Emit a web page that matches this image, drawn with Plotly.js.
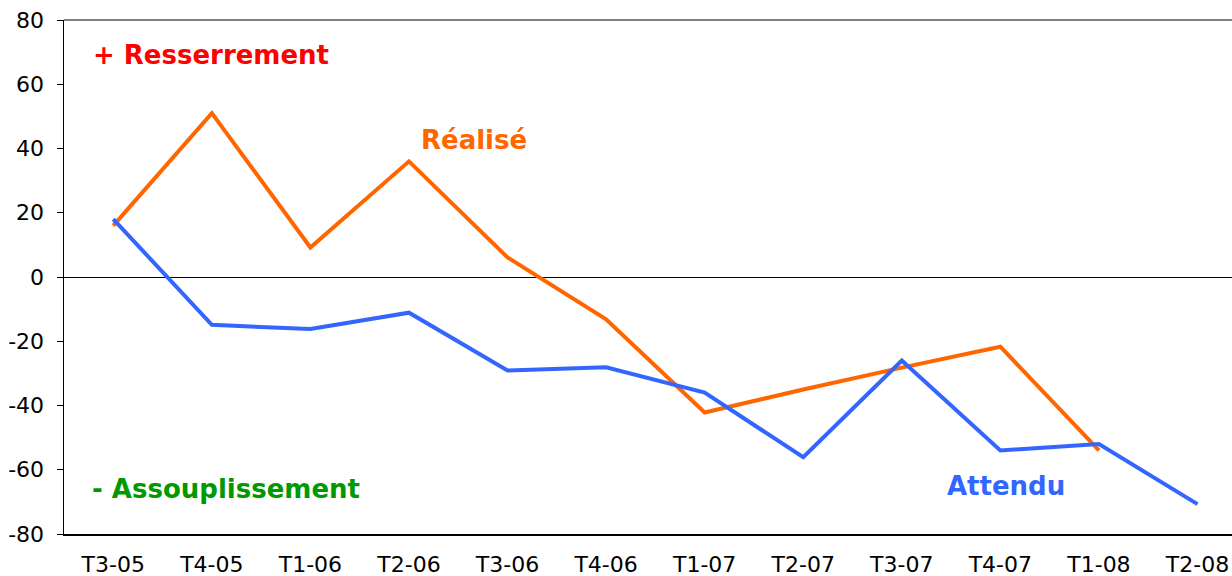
<!DOCTYPE html>
<html>
<head>
<meta charset="utf-8">
<script src="https://cdn.plot.ly/plotly-3.0.1.min.js"></script>
<style>html,body{margin:0;padding:0;background:#fff;}#chart{width:1232px;height:576px;}</style>
</head>
<body>
<div id="chart"></div>
<script>
const categories = ["T3-05","T4-05","T1-06","T2-06","T3-06","T4-06","T1-07","T2-07","T3-07","T4-07","T1-08","T2-08"];
const realise = [16, 51, 9.2, 36, 6.1, -13.2, -42.2, -35, -28.2, -21.7, -54, null];
const attendu = [18, -14.9, -16.2, -11.1, -29.1, -28.1, -36, -56.1, -26, -54, -52, -70.7];
const yTicks = [-80, -60, -40, -20, 0, 20, 40, 60, 80];

const font = "DejaVu Sans, Verdana, sans-serif";

const traces = [
  {x: categories, y: realise, type: "scatter", mode: "lines", name: "Réalisé",
   line: {color: "#FF6600", width: 4}, connectgaps: false, hoverinfo: "x+y"},
  {x: categories, y: attendu, type: "scatter", mode: "lines", name: "Attendu",
   line: {color: "#3366FF", width: 4}, hoverinfo: "x+y"}
];

const layout = {
  width: 1232, height: 576,
  margin: {l: 64, r: 0, t: 20, b: 42, pad: 0},
  paper_bgcolor: "#fff", plot_bgcolor: "#fff",
  showlegend: false,
  font: {family: font, color: "#000", size: 20},
  xaxis: {
    type: "category", categoryorder: "array", categoryarray: categories,
    range: [-0.5, 11.35],
    showgrid: false, zeroline: false,
    showline: true, linecolor: "#000", linewidth: 1.5,
    ticks: "", tickfont: {family: font, size: 22, color: "#000"},
    ticklabelstandoff: 10
  },
  yaxis: {
    range: [-80, 80], tickvals: yTicks, ticktext: yTicks.map(String),
    showgrid: false,
    zeroline: true, zerolinecolor: "#000", zerolinewidth: 1,
    showline: true, linecolor: "#000", linewidth: 1.5,
    ticks: "outside", ticklen: 6, tickcolor: "#000", tickwidth: 1,
    tickfont: {family: font, size: 22, color: "#000"},
    ticklabelstandoff: 8
  },
  shapes: [
    {type: "line", xref: "paper", yref: "paper", x0: 0, x1: 1, y0: 1, y1: 1,
     line: {color: "#808080", width: 2}}
  ],
  annotations: [
    {text: "<b>+ Resserrement</b>", xref: "paper", yref: "y", x: 0.0235, y: 69, xanchor: "left", yanchor: "middle",
     showarrow: false, font: {family: font, size: 26, color: "#FF0000"}},
    {text: "<b>Réalisé</b>", xref: "x", yref: "y", x: 3.1, y: 42.6, xanchor: "left", yanchor: "middle",
     showarrow: false, font: {family: font, size: 26, color: "#FF6600"}},
    {text: "<b>- Assouplissement</b>", xref: "paper", yref: "y", x: 0.0225, y: -66, xanchor: "left", yanchor: "middle",
     showarrow: false, font: {family: font, size: 26, color: "#009900"}},
    {text: "<b>Attendu</b>", xref: "x", yref: "y", x: 8.44, y: -65, xanchor: "left", yanchor: "middle",
     showarrow: false, font: {family: font, size: 26, color: "#3366FF"}}
  ]
};

Plotly.newPlot("chart", traces, layout, {displayModeBar: false, staticPlot: true});
</script>
</body>
</html>
